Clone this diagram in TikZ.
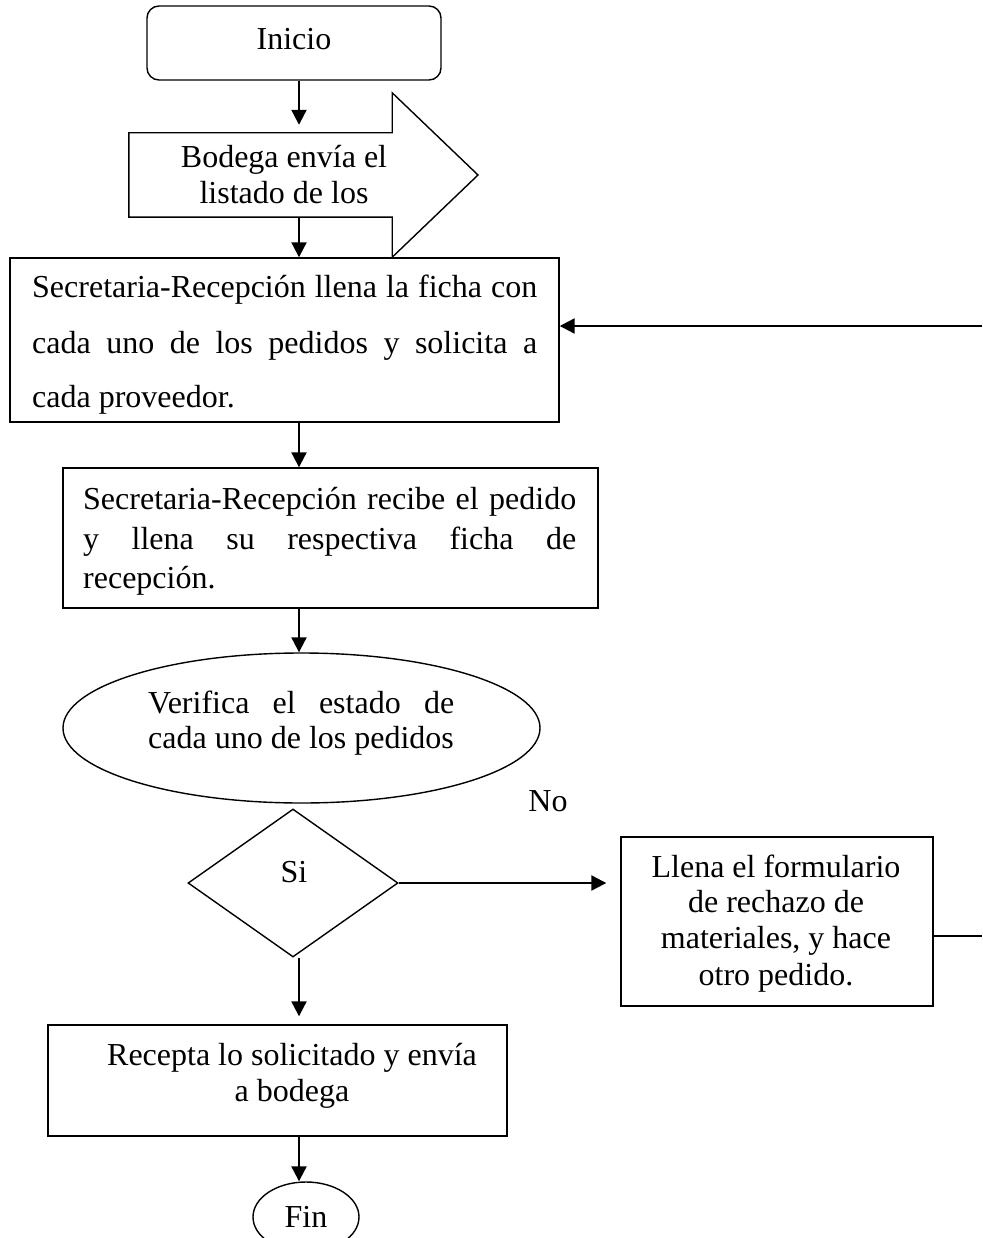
\documentclass[tikz,border=0pt]{standalone}
\usepackage{fontspec}
\setmainfont{Liberation Serif}
\usetikzlibrary{arrows.meta,shapes.geometric}
\begin{document}
\begin{tikzpicture}[x=1pt,y=-1pt,
  box/.style={draw, line width=1.4pt, inner sep=0pt},
  txt/.style={inner sep=0pt, anchor=base, font=\fontsize{32}{36}\selectfont},
  txtl/.style={txt, anchor=base west},
  arr/.style={line width=2.2pt, -{Triangle[length=15pt,width=15pt]}},
  link/.style={line width=1.4pt},
]
\useasboundingbox (0,0) rectangle (982,1238);
\coordinate (axis) at (299,0);
\coordinate (re1) at (982,326);
\coordinate (re2) at (982,936);

% start terminal
\node[box, rounded corners=12pt, minimum width=294pt, minimum height=74pt] (inicio) at (294,43) {};
\node[txt] (tinicio) at (294,50) {Inicio};

% block arrow: shaft plus head
\node[inner sep=0pt, minimum width=263pt, minimum height=84pt] (bodega) at (260.5,175) {};
\draw[line width=1.4pt] (bodega.north west) -- (bodega.north east) -- ++(0,-40)
  -- (478,175) -- ([yshift=-40pt]bodega.south east) -- (bodega.south east)
  -- (bodega.south west) -- cycle;
\node[txt] (bod1) at (284,168) {Bodega envía el};
\node[txt] (bod2) at (284,204) {listado de los};

% first process box
\node[box, minimum width=549pt, minimum height=164pt] (box1) at (284.5,340) {};
\node[txtl] (b1a) at (32,298) {\makebox[505pt][s]{Secretaria-Recepción llena la ficha con}};
\node[txtl] (b1b) at (32,353) {\makebox[505pt][s]{cada uno de los pedidos y solicita a}};
\node[txtl] (b1c) at (32,407) {cada proveedor.};

% second process box
\node[box, minimum width=535pt, minimum height=140pt] (box2) at (330.5,538) {};
\node[txtl] (b2a) at (83,509) {\makebox[493pt][s]{Secretaria-Recepción recibe el pedido}};
\node[txtl] (b2b) at (83,549) {\makebox[493pt][s]{y llena su respectiva ficha de}};
\node[txtl] (b2c) at (83,588) {recepción.};

% verification
\node[box, ellipse, minimum width=477pt, minimum height=150pt] (verif) at (301.5,728) {};
\node[txtl] (v1) at (148,713) {\makebox[306pt][s]{Verifica el estado de}};
\node[txtl] (v2) at (148,748) {cada uno de los pedidos};

% decision
\node[box, diamond, minimum width=210pt, minimum height=148pt] (dec) at (293,883) {};
\node[txt] (si) at (294,882) {Si};
\node[txt] (no) at (548,811) {No};

% rejection box
\node[box, minimum width=312pt, minimum height=169pt] (llena) at (777,921.5) {};
\node[txt] (l1) at (776,877) {Llena el formulario};
\node[txt] (l2) at (776,912) {de rechazo de};
\node[txt] (l3) at (776,948) {materiales, y hace};
\node[txt] (l4) at (776,985) {otro pedido.};

% reception box
\node[box, minimum width=459pt, minimum height=111pt] (box3) at (277.5,1080.5) {};
\node[txt] (r1) at (292,1065) {Recepta lo solicitado y envía};
\node[txt] (r2) at (292,1101) {a bodega};

% end terminal
\node[box, ellipse, minimum width=106pt, minimum height=70pt] (fin) at (306,1217) {};
\node[txt] (tfin) at (306,1227) {Fin};

% connectors
\draw[arr, shorten >=8pt] (inicio.south -| axis) -- (bodega.north -| axis);
\draw[arr] (bodega.south -| axis) -- (box1.north -| axis);
\draw[arr] (box1.south -| axis) -- (box2.north -| axis);
\draw[arr] (box2.south -| axis) -- (verif.north -| axis);
\draw[arr, shorten >=14pt] (dec.east) -- (llena.west |- dec.east);
\draw[arr, shorten >=8pt] (dec.south -| axis) -- (box3.north -| axis);
\draw[arr] (box3.south -| axis) -- (fin.north -| axis);
\draw[link] (llena.east |- re2) -- (re2);
\draw[arr] (re1) -- (re1 -| box1.east);
\end{tikzpicture}
\end{document}
